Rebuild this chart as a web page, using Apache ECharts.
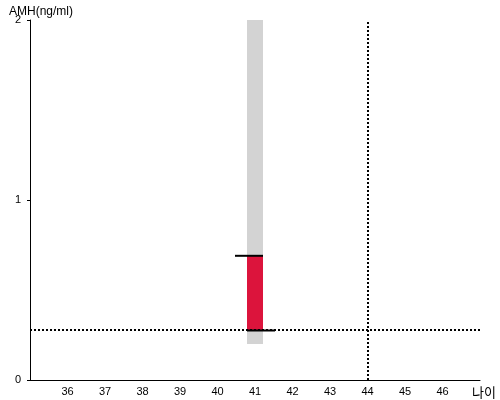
<!DOCTYPE html>
<html><head><meta charset="utf-8">
<script src="https://cdn.jsdelivr.net/npm/echarts@6/dist/echarts.min.js"></script>
<style>html,body{margin:0;padding:0;background:#fff}#c{width:500px;height:400px}</style>
</head><body><div id="c"></div>
<script>
// Data
const xName = '나이';
const yName = 'AMH(ng/ml)';
const age = [41];
const rangeLow = [0.2];
const rangeHigh = [2.0];
const valueLow = [0.275];
const valueHigh = [0.69];
const refAge = 44;
const refAmh = 0.275;

const chart = echarts.init(document.getElementById('c'), null, {renderer: 'canvas'});
const BAR_W = 16;
const font = 'Arial, "Liberation Sans", sans-serif';

chart.setOption({
  animation: false,
  title: {text: yName, left: 4, top: 1, textStyle: {fontFamily: font, fontSize: 12, fontWeight: 'normal', color: '#000'}},
  grid: {left: 30, right: 20, top: 20, bottom: 20, outerBoundsMode: 'none', containLabel: false},
  xAxis: {
    type: 'value', min: 35, max: 47, interval: 1,
    name: xName, nameLocation: 'end', nameGap: 4,
    nameTextStyle: {fontFamily: '"Noto Sans CJK KR", sans-serif', fontSize: 13, color: '#000', verticalAlign: 'top', padding: [6, 0, 0, -12]},
    axisLine: {lineStyle: {color: '#000', width: 1}},
    axisTick: {show: false},
    splitLine: {show: false},
    axisLabel: {showMinLabel: false, showMaxLabel: false, fontFamily: font, fontSize: 11, color: '#000', margin: 6}
  },
  yAxis: {
    type: 'value', min: 0, max: 2, interval: 1,
    axisLine: {show: true, lineStyle: {color: '#000', width: 1}},
    axisTick: {show: true, length: 3, lineStyle: {color: '#000'}},
    splitLine: {show: false},
    axisLabel: {fontFamily: font, fontSize: 11, color: '#000', margin: 9, padding: [3, 0, 0, 0]}
  },
  series: [
    {
      type: 'custom',
      data: age.map((a, i) => [a, rangeLow[i], rangeHigh[i]]),
      renderItem: function (params, api) {
        const p1 = api.coord([api.value(0), api.value(1)]);
        const p2 = api.coord([api.value(0), api.value(2)]);
        return {type: 'rect', shape: {x: p1[0] - BAR_W / 2, y: p2[1], width: BAR_W, height: p1[1] - p2[1]}, style: {fill: '#d3d3d3'}};
      },
      z: 1
    },
    {
      type: 'custom',
      data: age.map((a, i) => [a, valueLow[i], valueHigh[i]]),
      renderItem: function (params, api) {
        const p1 = api.coord([api.value(0), api.value(1)]);
        const p2 = api.coord([api.value(0), api.value(2)]);
        const l = p1[0] - BAR_W / 2, r = p1[0] + BAR_W / 2;
        return {type: 'group', children: [
          {type: 'rect', shape: {x: l, y: p2[1], width: BAR_W, height: p1[1] - p2[1]}, style: {fill: '#dc143c'}},
          {type: 'line', shape: {x1: l - 12, y1: p2[1], x2: r, y2: p2[1]}, style: {stroke: '#000', lineWidth: 2}},
          {type: 'line', shape: {x1: l, y1: p1[1], x2: r + 12, y2: p1[1]}, style: {stroke: '#000', lineWidth: 2}}
        ]};
      },
      z: 3
    },
    {
      type: 'line', data: [], z: 2,
      markLine: {
        silent: true, symbol: 'none', label: {show: false},
        lineStyle: {color: '#000', type: [2, 2], width: 2},
        data: [{xAxis: refAge}, {yAxis: refAmh}]
      }
    }
  ]
});
</script></body></html>
